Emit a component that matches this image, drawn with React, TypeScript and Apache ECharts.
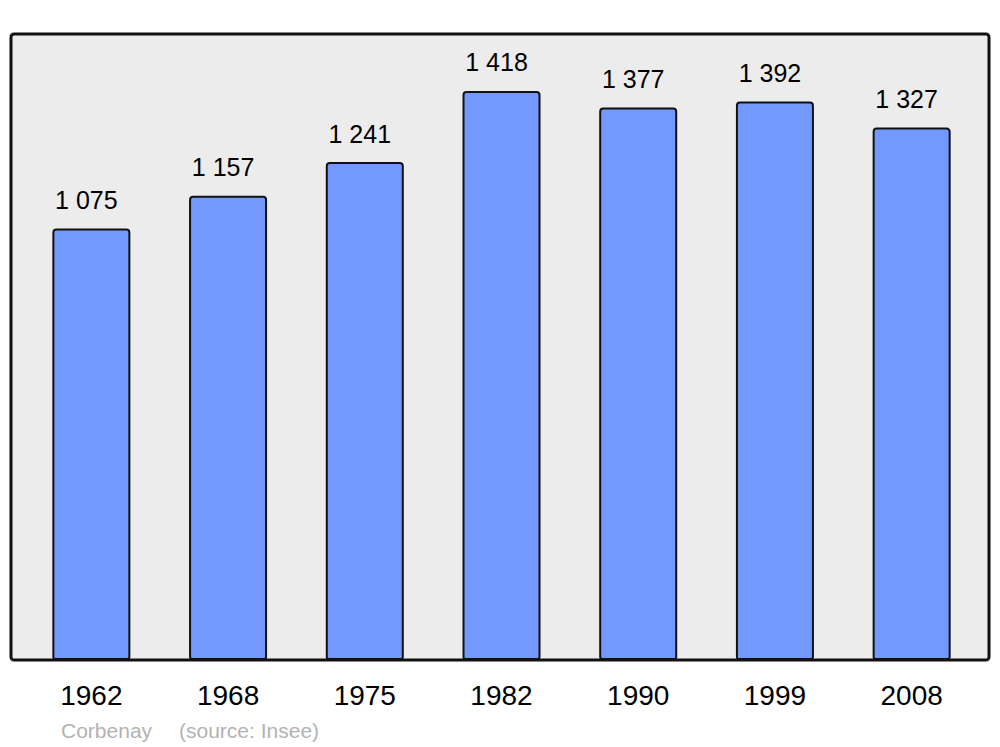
import React, { useEffect, useRef } from "react";
import * as echarts from "echarts";

const years = ["1962", "1968", "1975", "1982", "1990", "1999", "2008"];
const population = [1075, 1157, 1241, 1418, 1377, 1392, 1327];
const townName = "Corbenay";
const sourceText = "(source: Insee)";

const FONT = "'Liberation Sans', Arial, sans-serif";

function fmt(v: number): string {
  const s = String(v);
  return s.replace(/\B(?=(\d{3})+(?!\d))/g, " ");
}

export default function App() {
  const ref = useRef<HTMLDivElement>(null);
  useEffect(() => {
    if (!ref.current) return;
    const chart = echarts.init(ref.current, undefined, { renderer: "svg" });
    chart.setOption({
      animation: false,
      backgroundColor: "#ffffff",
      grid: { left: 23, width: 957, top: 34, bottom: 87 },
      xAxis: {
        type: "category",
        data: years,
        axisLine: { show: false },
        axisTick: { show: false },
        axisLabel: {
          color: "#000",
          fontSize: 28,
          fontFamily: FONT,
          margin: 21,
        },
      },
      yAxis: {
        type: "value",
        min: 0,
        max: 1560,
        show: false,
        splitLine: { show: false },
      },
      graphic: [
        {
          type: "rect",
          z: -10,
          shape: { x: 11, y: 34, width: 978, height: 626, r: 3 },
          style: { fill: "#ececec", stroke: "none" },
          silent: true,
        },
        {
          type: "rect",
          z: 100,
          shape: { x: 11, y: 34, width: 978, height: 626, r: 3 },
          style: { fill: "none", stroke: "#111", lineWidth: 3 },
          silent: true,
        },
        {
          type: "text",
          x: 61,
          y: 730,
          style: {
            text: townName,
            fill: "#b3b3b3",
            font: `21px ${FONT}`,
            textVerticalAlign: "middle",
          },
        },
        {
          type: "text",
          x: 179,
          y: 730,
          style: {
            text: sourceText,
            fill: "#b3b3b3",
            font: `21px ${FONT}`,
            textVerticalAlign: "middle",
          },
        },
      ],
      series: [
        {
          type: "bar",
          data: population,
          barWidth: 78,
          itemStyle: {
            color: "#7399ff",
            borderColor: "#111",
            borderWidth: 2,
            borderRadius: [3, 3, 2, 2],
          },
          label: {
            show: true,
            position: "top",
            distance: 16,
            offset: [-5, 0],
            color: "#000",
            fontSize: 25,
            fontFamily: FONT,
            formatter: (p: any) => fmt(p.value),
          },
        },
      ],
    });
    return () => chart.dispose();
  }, []);
  return <div ref={ref} style={{ width: 1000, height: 747, position: "absolute", left: 0, top: 0 }} />;
}
